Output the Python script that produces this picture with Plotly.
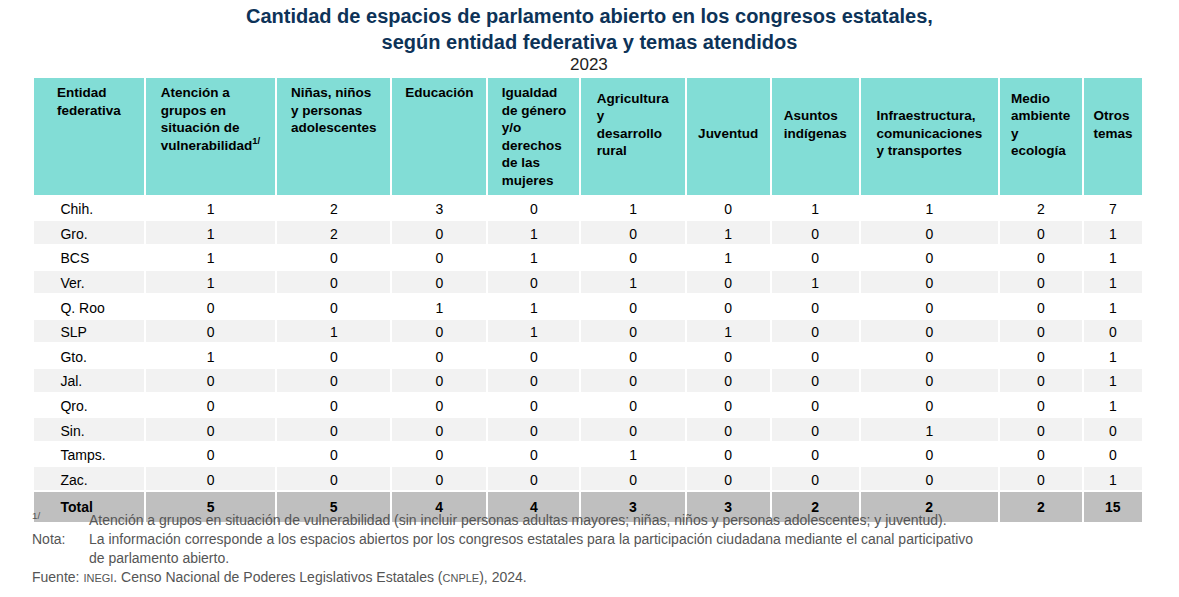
import plotly.graph_objects as go

entidades = ["Chih.", "Gro.", "BCS", "Ver.", "Q. Roo", "SLP", "Gto.", "Jal.", "Qro.", "Sin.", "Tamps.", "Zac."]
atencion = [1, 1, 1, 1, 0, 0, 1, 0, 0, 0, 0, 0]
ninas = [2, 2, 0, 0, 0, 1, 0, 0, 0, 0, 0, 0]
educacion = [3, 0, 0, 0, 1, 0, 0, 0, 0, 0, 0, 0]
igualdad = [0, 1, 1, 0, 1, 1, 0, 0, 0, 0, 0, 0]
agricultura = [1, 0, 0, 1, 0, 0, 0, 0, 0, 0, 1, 0]
juventud = [0, 1, 1, 0, 0, 1, 0, 0, 0, 0, 0, 0]
indigenas = [1, 0, 0, 1, 0, 0, 0, 0, 0, 0, 0, 0]
infraestructura = [1, 0, 0, 0, 0, 0, 0, 0, 0, 1, 0, 0]
medio_ambiente = [2, 0, 0, 0, 0, 0, 0, 0, 0, 0, 0, 0]
otros = [7, 1, 1, 1, 1, 0, 1, 1, 1, 0, 0, 1]

headers = [
    "Entidad<br>federativa",
    "Atención a<br>grupos en<br>situación de<br>vulnerabilidad<sup>1/</sup>",
    "Niñas, niños<br>y personas<br>adolescentes",
    "Educación",
    "Igualdad<br>de género<br>y/o<br>derechos<br>de las<br>mujeres",
    "Agricultura<br>y<br>desarrollo<br>rural",
    "Juventud",
    "Asuntos<br>indígenas",
    "Infraestructura,<br>comunicaciones<br>y transportes",
    "Medio<br>ambiente<br>y<br>ecología",
    "Otros<br>temas",
]

series = [atencion, ninas, educacion, igualdad, agricultura, juventud,
          indigenas, infraestructura, medio_ambiente, otros]

# fake vertical centering of header text with blank lines
def center_header(h, max_lines=6):
    lines = h.split("<br>")
    k = (max_lines - len(lines) + 1) // 2
    return "<br>" * k + "<br>".join("<b>%s</b>" % l for l in lines)

pad = "\u00a0" * 5
columns = [[pad + e for e in entidades] + [pad + "<b>Total</b>"]]
for s in series:
    columns.append([str(v) for v in s] + ["<b>%d</b>" % sum(s)])

n = len(entidades)
row_fill = ["white" if i % 2 == 0 else "#f2f2f2" for i in range(n)] + ["#bfbfbf"]

col_px = [112, 131, 115, 96, 93, 105, 85, 89, 139, 84, 60]
W, H = 1179, 597
OFF = 8  # page body margin


def px(x):
    return (x - OFF) / W


def py(y):
    return 1 - (y - OFF) / H


fig = go.Figure(go.Table(
    domain=dict(x=[px(33), px(1143)], y=[0, py(77)]),
    columnwidth=col_px,
    header=dict(
        values=[center_header(h) for h in headers],
        fill_color="#82ddd6",
        line=dict(color="white", width=2),
        align=["center"] * len(headers),
        font=dict(family="Arial, Liberation Sans", size=13.5, color="black"),
        height=111,
    ),
    cells=dict(
        values=columns,
        fill_color=[row_fill] * len(columns),
        line=dict(color="white", width=2),
        align=["left"] + ["center"] * len(series),
        font=dict(family="Arial, Liberation Sans", size=14, color="black"),
        height=24.6,
    ),
))

fig.update_layout(
    width=W, height=H,
    margin=dict(l=0, r=0, t=0, b=0),
    paper_bgcolor="white",
)

fig.add_annotation(
    text="<b>Cantidad de espacios de parlamento abierto en los congresos estatales,<br>según entidad federativa y temas atendidos</b>",
    x=px(589), y=py(3), xref="paper", yref="paper", xanchor="center", yanchor="top",
    showarrow=False, font=dict(family="Arial, Liberation Sans", size=20, color="#0d3358"),
)
fig.add_annotation(
    text="2023", x=px(589), y=py(53), xref="paper", yref="paper",
    xanchor="center", yanchor="top", showarrow=False,
    font=dict(family="Arial, Liberation Sans", size=17, color="#222222"),
)

note_font = dict(family="Arial, Liberation Sans", size=14, color="#555555")
notes = [
    (516, 30, "<sup>1/</sup>"),
    (520, 87, "Atención a grupos en situación de vulnerabilidad (sin incluir personas adultas mayores; niñas, niños y personas adolescentes; y juventud)."),
    (539, 30, "Nota:"),
    (539, 87, "La información corresponde a los espacios abiertos por los congresos estatales para la participación ciudadana mediante el canal participativo"),
    (558, 87, "de parlamento abierto."),
    (577, 30, "Fuente: <span style='font-size:11px'>INEGI</span>. Censo Nacional de Poderes Legislativos Estatales (<span style='font-size:11px'>CNPLE</span>), 2024."),
]
for y, x, t in notes:
    fig.add_annotation(text=t, x=px(x), y=py(y), xref="paper", yref="paper",
                       xanchor="left", yanchor="middle", showarrow=False, font=note_font)

fig.write_html("out.html")
